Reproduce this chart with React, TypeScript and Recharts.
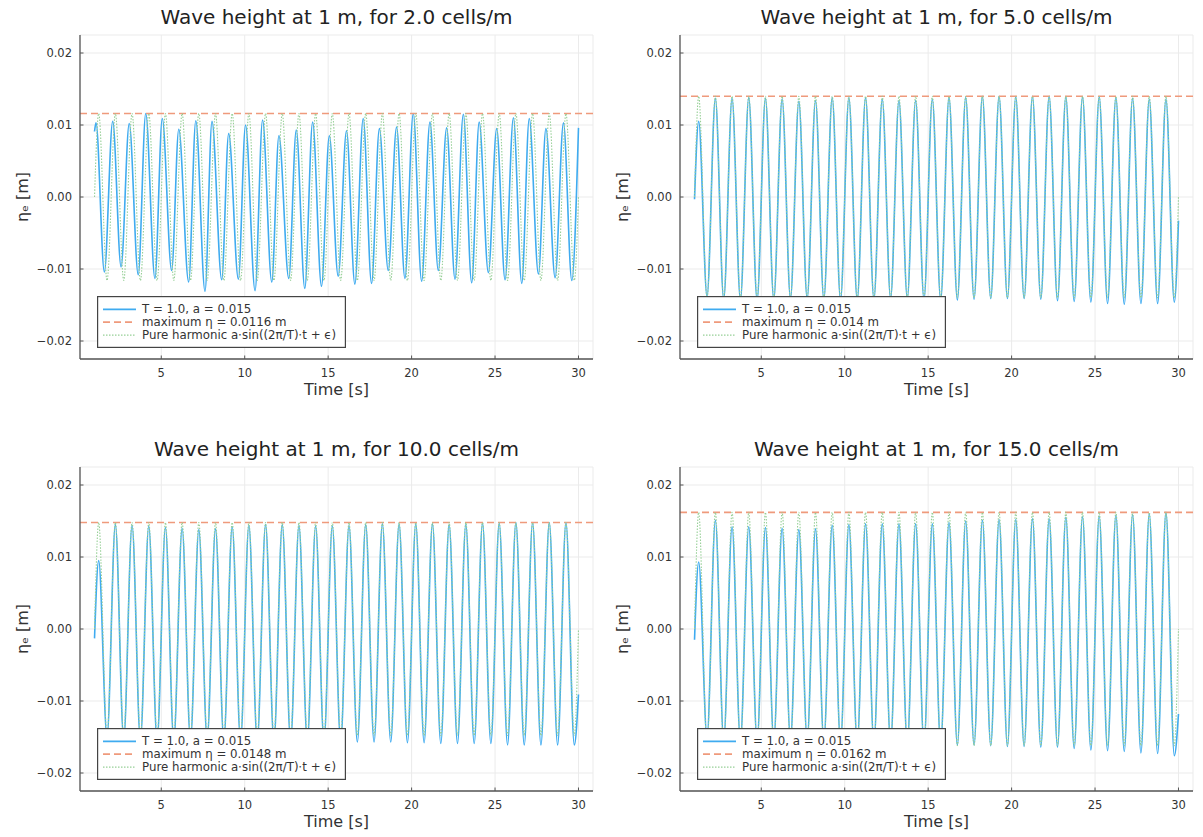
import React from 'react';
import { LineChart, Line, XAxis, YAxis, CartesianGrid, ReferenceLine, Legend, Label } from 'recharts';

const FONT = '"DejaVu Sans", "Liberation Sans", sans-serif';

// ---------- axes ----------
const X_TICKS = [5, 10, 15, 20, 25, 30];
const Y_TICKS = [-0.02, -0.01, 0, 0.01, 0.02];
const X_DOMAIN: [number, number] = [0.13, 30.87];
const Y_DOMAIN: [number, number] = [-0.0225, 0.0225];

// ---------- texts ----------
const TITLES = [
  'Wave height at 1 m, for 2.0 cells/m',
  'Wave height at 1 m, for 5.0 cells/m',
  'Wave height at 1 m, for 10.0 cells/m',
  'Wave height at 1 m, for 15.0 cells/m',
];
const SERIES_LABEL = 'T = 1.0, a = 0.015';
const MAX_LABELS = ['maximum η = 0.0116 m', 'maximum η = 0.014 m', 'maximum η = 0.0148 m', 'maximum η = 0.0162 m'];
const HARMONIC_LABEL = 'Pure harmonic a⋅sin((2π/T)⋅t + ϵ)';
const X_LABEL = 'Time [s]';
const Y_LABEL = 'ηₑ [m]';

// ---------- values ----------
const MAX_ETA = [0.0116, 0.014, 0.0148, 0.0162];
const HARMONIC_AMP = [0.0116, 0.014, 0.0148, 0.0162];

// crest / trough times (s) for the 5, 10, 15 cells/m runs and the pure harmonic
const CREST_T = [1.25, 2.25, 3.25, 4.25, 5.25, 6.25, 7.25, 8.25, 9.25, 10.25, 11.25, 12.25, 13.25, 14.25, 15.25, 16.25, 17.25, 18.25, 19.25, 20.25, 21.25, 22.25, 23.25, 24.25, 25.25, 26.25, 27.25, 28.25, 29.25];
const TROUGH_T = [1.75, 2.75, 3.75, 4.75, 5.75, 6.75, 7.75, 8.75, 9.75, 10.75, 11.75, 12.75, 13.75, 14.75, 15.75, 16.75, 17.75, 18.75, 19.75, 20.75, 21.75, 22.75, 23.75, 24.75, 25.75, 26.75, 27.75, 28.75, 29.75];
const HARM_START = [1, 0];
const HARM_END = [30, 0];

// 2.0 cells/m
const P1_CREST_T = [1.09, 2.09, 3.08, 4.07, 5.06, 6.05, 7.07, 8.04, 9.04, 10.05, 11.07, 12.05, 13.09, 14.07, 15.07, 16.1, 17.1, 18.07, 19.1, 20.1, 21.1, 22.1, 23.1, 24.05, 25.1, 26.1, 27.05, 28.05, 29.1];
const P1_TROUGH_T = [1.59, 2.59, 3.62, 4.62, 5.62, 6.64, 7.62, 8.62, 9.62, 10.62, 11.62, 12.64, 13.6, 14.6, 15.6, 16.6, 17.6, 18.6, 19.6, 20.6, 21.6, 22.6, 23.6, 24.6, 25.6, 26.6, 27.6, 28.6, 29.6];
const P1_CREST = [0.0103, 0.0105, 0.0102, 0.0116, 0.0109, 0.0094, 0.0106, 0.0105, 0.0088, 0.01, 0.0107, 0.0085, 0.0093, 0.0104, 0.0085, 0.0092, 0.0109, 0.0095, 0.0097, 0.0116, 0.0104, 0.0096, 0.0115, 0.0104, 0.0095, 0.011, 0.0109, 0.0095, 0.0103];
const P1_TROUGH = [-0.0104, -0.0097, -0.0108, -0.0113, -0.0102, -0.0118, -0.0131, -0.0115, -0.0114, -0.013, -0.0118, -0.0113, -0.0127, -0.0124, -0.011, -0.0121, -0.012, -0.0102, -0.0113, -0.0117, -0.0102, -0.0114, -0.0119, -0.0105, -0.0115, -0.012, -0.0107, -0.0112, -0.0116];
const P1_START = [1, 0.0091];
const P1_END = [30, 0.0096];

// 5.0 cells/m
const P2_CREST = [0.0105, 0.0137, 0.0137, 0.0138, 0.0137, 0.0136, 0.0133, 0.0134, 0.0138, 0.0138, 0.0138, 0.0136, 0.0134, 0.0134, 0.0136, 0.0138, 0.0138, 0.014, 0.014, 0.0139, 0.014, 0.014, 0.0139, 0.0139, 0.0139, 0.0138, 0.0137, 0.0136, 0.0136];
const P2_TROUGH = [-0.0138, -0.0142, -0.0143, -0.0143, -0.0142, -0.0141, -0.0141, -0.0142, -0.0143, -0.0143, -0.0142, -0.0141, -0.0141, -0.0142, -0.0143, -0.0143, -0.0142, -0.0141, -0.0141, -0.0141, -0.0142, -0.0144, -0.0145, -0.0146, -0.0148, -0.0149, -0.0148, -0.0148, -0.0146];
const P2_START = [1, -0.0003];
const P2_END = [30, -0.0033];

// 10.0 cells/m
const P3_CREST = [0.0095, 0.0145, 0.0144, 0.0143, 0.0141, 0.014, 0.0138, 0.0139, 0.0142, 0.0144, 0.0145, 0.0145, 0.0144, 0.0143, 0.0143, 0.0144, 0.0145, 0.0146, 0.0146, 0.0146, 0.0146, 0.0145, 0.0145, 0.0147, 0.0147, 0.0148, 0.0148, 0.0148, 0.0148];
const P3_TROUGH = [-0.015, -0.0153, -0.0154, -0.0155, -0.0155, -0.0154, -0.0153, -0.0154, -0.0155, -0.0156, -0.0156, -0.0156, -0.0156, -0.0156, -0.0157, -0.0157, -0.0157, -0.0157, -0.0158, -0.0158, -0.0159, -0.0159, -0.0159, -0.0159, -0.0161, -0.0161, -0.0161, -0.0161, -0.0161];
const P3_START = [1, -0.0013];
const P3_END = [30, -0.0091];

// 15.0 cells/m
const P4_CREST = [0.0093, 0.0151, 0.0142, 0.0142, 0.0141, 0.014, 0.0138, 0.0139, 0.0144, 0.0145, 0.0146, 0.0146, 0.0146, 0.0146, 0.0146, 0.0148, 0.015, 0.0151, 0.0152, 0.0152, 0.0153, 0.0153, 0.0155, 0.0156, 0.0157, 0.0158, 0.0159, 0.016, 0.0162];
const P4_TROUGH = [-0.015, -0.0154, -0.0155, -0.0155, -0.0154, -0.0153, -0.0153, -0.0155, -0.0157, -0.0158, -0.0158, -0.0158, -0.0159, -0.0159, -0.016, -0.0161, -0.0161, -0.0162, -0.0163, -0.0163, -0.0164, -0.0164, -0.0166, -0.0168, -0.0169, -0.017, -0.0172, -0.0173, -0.0176];
const P4_START = [1, -0.0015];
const P4_END = [30, -0.0118];

// ---------- styles ----------
const BLUE = '#3fabf0';
const ORANGE = '#ef9a7c';
const GREEN = '#96cf96';
const AXIS = '#555555';
const TEXT = '#333333';

type Pt = { t: number; v: number };

function buildSeries(start: number[], crestT: number[], crest: number[], troughT: number[], trough: number[], end: number[]): Pt[] {
  const pts: Pt[] = [{ t: start[0], v: start[1] }];
  for (let i = 0; i < crestT.length; i++) {
    pts.push({ t: crestT[i], v: crest[i] });
    pts.push({ t: troughT[i], v: trough[i] });
  }
  pts.push({ t: end[0], v: end[1] });
  return pts;
}

function buildHarmonic(amp: number): Pt[] {
  return buildSeries(
    HARM_START,
    CREST_T,
    CREST_T.map(() => amp),
    TROUGH_T,
    TROUGH_T.map(() => -amp),
    HARM_END
  );
}

const BLUE_SERIES: Pt[][] = [
  buildSeries(P1_START, P1_CREST_T, P1_CREST, P1_TROUGH_T, P1_TROUGH, P1_END),
  buildSeries(P2_START, CREST_T, P2_CREST, TROUGH_T, P2_TROUGH, P2_END),
  buildSeries(P3_START, CREST_T, P3_CREST, TROUGH_T, P3_TROUGH, P3_END),
  buildSeries(P4_START, CREST_T, P4_CREST, TROUGH_T, P4_TROUGH, P4_END),
];
const GREEN_SERIES: Pt[][] = HARMONIC_AMP.map(buildHarmonic);

const PANEL_POS = [
  [0, 0],
  [600, 0],
  [0, 432],
  [600, 432],
];

const fmtY = (v: number) => {
  if (Math.abs(v) < 1e-12) return '0.00';
  return (v < 0 ? '\u2212' : '') + Math.abs(v).toFixed(2);
};

const XTick = (props: any) => {
  const { x, y, payload } = props;
  return (
    <g>
      <line x1={x} x2={x} y1={y - 14} y2={y - 17.5} stroke={AXIS} strokeWidth={1} />
      <text x={x} y={y} textAnchor="middle" dominantBaseline="central" fontSize={11.5} fill={TEXT} fontFamily={FONT}>
        {payload.value}
      </text>
    </g>
  );
};

const YTick = (props: any) => {
  const { x, y, payload } = props;
  return (
    <g>
      <line x1={x + 8} x2={x + 11.5} y1={y} y2={y} stroke={AXIS} strokeWidth={1} />
      <text x={x} y={y} textAnchor="end" dominantBaseline="central" fontSize={11.5} fill={TEXT} fontFamily={FONT}>
        {fmtY(payload.value)}
      </text>
    </g>
  );
};

const XLab = (props: any) => {
  const vb = props.viewBox || { x: 80, y: 359, width: 513, height: 46 };
  return (
    <text x={vb.x + vb.width / 2} y={vb.y + 36} textAnchor="middle" fontSize={16} fill={TEXT} fontFamily={FONT}>
      {X_LABEL}
    </text>
  );
};

const YLab = (props: any) => {
  const vb = props.viewBox || { x: 0, y: 35, width: 80, height: 324 };
  const cx = 22;
  const cy = vb.y + vb.height / 2;
  return (
    <text
      x={cx}
      y={cy}
      transform={`rotate(-90 ${cx} ${cy})`}
      textAnchor="middle"
      dominantBaseline="central"
      fontSize={16}
      fill={TEXT}
      fontFamily={FONT}
    >
      {Y_LABEL}
    </text>
  );
};

const makeLegend = (i: number) => () => {
  const rows = [
    { stroke: BLUE, width: 1.8, dash: undefined as string | undefined, label: SERIES_LABEL },
    { stroke: ORANGE, width: 1.8, dash: '7 4', label: MAX_LABELS[i] },
    { stroke: GREEN, width: 1.2, dash: '1.5 1.5', label: HARMONIC_LABEL },
  ];
  return (
    <svg width={249} height={52} style={{ display: 'block' }}>
      <rect x={0.6} y={0.6} width={247.8} height={50.8} fill="#fff" stroke="#444" strokeWidth={1.2} />
      {rows.map((r, k) => {
        const yy = 13.3 + k * 12.9;
        return (
          <g key={k}>
            <line x1={6} x2={39} y1={yy} y2={yy} stroke={r.stroke} strokeWidth={r.width} strokeDasharray={r.dash} />
            <text x={45} y={yy} dominantBaseline="central" fontSize={11.8} fill={TEXT} fontFamily={FONT}>
              {r.label}
            </text>
          </g>
        );
      })}
    </svg>
  );
};

const Panel = ({ i }: { i: number }) => (
  <LineChart width={600} height={405} margin={{ top: 35, right: 7, bottom: 0, left: 0 }}>
    <CartesianGrid stroke="#ebebeb" strokeWidth={1} />
    <XAxis
      type="number"
      dataKey="t"
      domain={X_DOMAIN}
      ticks={X_TICKS}
      interval={0}
      allowDataOverflow
      height={46}
      tickSize={0}
      tickMargin={14}
      tick={<XTick />}
      axisLine={{ stroke: AXIS, strokeWidth: 1.3 }}
    >
      <Label content={XLab} />
    </XAxis>
    <YAxis
      type="number"
      domain={Y_DOMAIN}
      ticks={Y_TICKS}
      interval={0}
      allowDataOverflow
      width={80}
      tickSize={0}
      tickMargin={8}
      tick={<YTick />}
      axisLine={{ stroke: AXIS, strokeWidth: 1.3 }}
    >
      <Label content={YLab} />
    </YAxis>
    <Line
      data={BLUE_SERIES[i]}
      dataKey="v"
      type="monotoneX"
      stroke={BLUE}
      strokeWidth={1.6}
      dot={false}
      activeDot={false}
      isAnimationActive={false}
    />
    <ReferenceLine y={MAX_ETA[i]} stroke={ORANGE} strokeWidth={1.6} strokeDasharray="7 4" />
    <Line
      data={GREEN_SERIES[i]}
      dataKey="v"
      type="monotoneX"
      stroke={GREEN}
      strokeWidth={1.1}
      strokeDasharray="1.5 1.5"
      dot={false}
      activeDot={false}
      isAnimationActive={false}
    />
    <Legend
      layout="vertical"
      align="center"
      verticalAlign="middle"
      content={makeLegend(i)}
      wrapperStyle={{ left: 97, top: 296, width: 249, height: 52 }}
    />
    <text x={336.5} y={24} textAnchor="middle" fontSize={20} fill="#222" fontFamily={FONT}>
      {TITLES[i]}
    </text>
  </LineChart>
);

export default function App() {
  return (
    <div
      style={{
        position: 'absolute',
        left: 0,
        top: 0,
        width: 1203,
        height: 837,
        background: '#fff',
        fontFamily: FONT,
        overflow: 'hidden',
      }}
    >
      {PANEL_POS.map((p, i) => (
        <div key={i} style={{ position: 'absolute', left: p[0], top: p[1], width: 600, height: 405 }}>
          <Panel i={i} />
        </div>
      ))}
    </div>
  );
}
